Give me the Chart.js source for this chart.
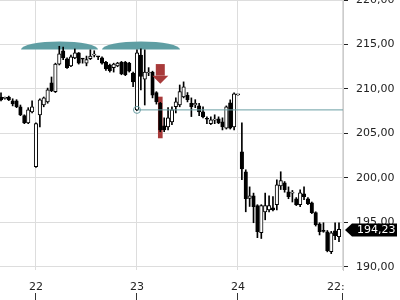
<!DOCTYPE html>
<html><head><meta charset="utf-8">
<script src="https://cdn.jsdelivr.net/npm/chart.js@4"></script>
<style>
html,body{margin:0;padding:0;background:#fff;overflow:hidden;width:400px;height:300px}
#wrap{position:absolute;left:0;top:0;width:400px;height:300px}
</style></head><body>
<div id="wrap"><canvas id="c"></canvas></div>
<script>
// ---- data (candle index = hourly slot) ----
const open  = [209.1,208.95,209.1,208.67,208.67,208.0,207.0,206.2,207.43,
 201.26,207.1,208.2,208.55,210.7,209.7,212.8,214.3,213.4,212.6,213.5,214.05,213.4,212.9,213.4,213.8,213.62,213.5,213.0,212.7,212.4,212.6,213.0,213.0,212.9,211.8,
 207.65,213.8,211.1,211.8,211.9,209.6,208.4,205.86,205.75,206.3,208.0,208.2,209.1,209.3,208.4,208.2,208.1,207.43,206.64,206.1,206.5,206.64,206.3,205.6,208.44,205.75,
 209.34,202.94,200.7,197.7,198.0,196.9,193.85,196.2,196.4,196.65,197.0,199.1,199.46,198.45,198.3,197.67,197.0,198.23,197.67,197.22,196.1,194.86,194.07,193.96,191.72,194.07,193.4];
const high  = [209.56,209.1,209.2,208.9,208.8,208.2,207.1,207.9,208.67,
 206.2,208.9,209.1,210.1,211.35,212.9,214.8,214.7,213.5,213.8,214.5,214.1,213.45,213.7,214.4,214.3,213.65,213.6,213.1,212.8,212.9,213.0,213.1,213.1,213.0,211.9,
 214.4,214.5,214.4,212.4,212.0,209.7,208.5,206.76,207.9,208.0,209.0,210.45,210.8,209.6,209.0,208.8,208.4,208.0,206.87,206.87,207.1,206.87,206.76,208.1,208.78,209.56,
 209.4,206.2,200.92,199.0,198.3,197.0,197.0,198.3,198.0,197.9,199.8,200.7,199.6,199.0,198.6,197.8,198.68,199.0,197.8,197.3,196.2,194.97,194.97,194.1,194.0,194.97,194.97];
const low   = [208.67,208.85,208.7,208.1,207.9,207.0,206.1,206.1,207.3,
 201.2,205.75,208.0,208.4,209.7,209.6,212.7,213.3,212.3,212.5,213.4,212.8,212.9,212.6,213.3,213.6,213.3,212.8,212.1,211.9,211.9,212.5,211.6,211.5,211.9,210.25,
 207.55,209.9,208.2,211.5,209.0,208.3,205.2,205.2,205.4,206.0,207.3,208.0,209.0,208.55,206.9,207.9,207.0,206.76,206.1,206.0,206.1,206.1,205.4,205.5,205.5,205.4,
 209.3,199.8,196.2,196.8,194.97,193.29,193.2,195.3,196.2,196.3,196.4,198.7,198.4,197.67,197.3,196.9,196.77,197.55,197.0,196.0,194.6,193.6,193.9,191.7,191.5,193.07,192.84];
const close = [208.78,209.0,208.78,208.33,208.0,207.1,206.2,207.65,208.0,
 206.1,208.78,209.0,209.9,209.8,212.8,213.95,213.5,212.4,213.6,214.05,212.9,213.35,213.3,213.7,213.85,213.6,212.9,212.25,212.05,212.8,212.9,211.7,211.6,212.0,210.8,
 214.05,211.4,211.9,211.85,209.3,208.55,205.4,205.4,206.76,207.65,208.55,209.7,210.25,208.8,208.0,208.4,207.43,206.87,206.6,206.53,206.55,206.2,205.75,208.0,205.6,209.45,
 209.36,201.03,197.67,198.0,196.77,193.96,196.9,196.9,196.9,196.4,199.24,199.7,198.68,197.9,198.35,197.0,198.34,197.9,197.1,196.1,194.75,193.96,194.0,191.83,193.85,193.51,194.23];

const dayTicks  = [9, 35, 61, 88];
const dayLabels = ['22', '23', '24', '22:\u2007\u2007'];
const priceTicks = [190, 195, 200, 205, 210, 215, 220];

const refIndex = 35, refLevel = 207.65;           // horizontal reference line + circle
const signalIndex = 41, signalRange = [204.5, 209.1], arrowTop = 212.8, arrowTip = 210.6;
const eventFrom = [5.15, 26.0], eventTo = [24.97, 46.07], eventLevel = 214.44;

// ---- helpers ----
const fmt = v => v.toFixed(2).replace('.', ',');
const idx = open.map((_, i) => i);
const up = idx.map(i => close[i] >= open[i]);

Chart.defaults.font.family = '"DejaVu Sans", sans-serif';
Chart.defaults.font.size = 11;
Chart.defaults.color = '#222';

const overlay = {
  id: 'overlay',
  beforeDatasetsDraw(chart) {
    const {ctx, scales: {x, y}} = chart;
    ctx.save();
    ctx.fillStyle = '#5f9ea3';
    for (let k = 0; k < eventFrom.length; k++) {
      const x0 = x.getPixelForValue(eventFrom[k]), x1 = x.getPixelForValue(eventTo[k]);
      const yb = y.getPixelForValue(eventLevel);
      ctx.beginPath();
      ctx.ellipse((x0 + x1) / 2, yb, (x1 - x0) / 2, 8, 0, Math.PI, 2 * Math.PI);
      ctx.closePath();
      ctx.fill();
    }
    ctx.restore();
  },
  afterDatasetsDraw(chart) {
    const {ctx, scales: {x, y}} = chart;
    ctx.save();
    const ax = x.getPixelForValue(signalIndex);
    const yt = y.getPixelForValue(arrowTop), ytip = y.getPixelForValue(arrowTip);
    ctx.fillStyle = '#a83a3a';
    ctx.fillRect(ax - 4.5, yt, 9, (ytip - yt) - 8);
    ctx.beginPath();
    ctx.moveTo(ax - 8, ytip - 8); ctx.lineTo(ax + 8, ytip - 8); ctx.lineTo(ax, ytip);
    ctx.closePath(); ctx.fill();
    ctx.restore();
  },
  afterDraw(chart) {
    const {ctx, chartArea, scales: {y}} = chart;
    const last = close[close.length - 1];
    const yy = Math.round(y.getPixelForValue(last)) + 1;
    const x0 = chartArea.right + 2, x2 = chart.width - 3;
    ctx.save();
    ctx.fillStyle = '#000';
    ctx.beginPath();
    ctx.moveTo(x0, yy); ctx.lineTo(x0 + 7, yy - 6.5); ctx.lineTo(x2, yy - 6.5);
    ctx.lineTo(x2, yy + 6.5); ctx.lineTo(x0 + 7, yy + 6.5); ctx.closePath(); ctx.fill();
    ctx.fillStyle = '#fff';
    ctx.font = '11px "DejaVu Sans"';
    ctx.textBaseline = 'middle'; ctx.textAlign = 'left';
    ctx.fillText(fmt(last), x0 + 12, yy + 0.5);
    ctx.restore();
  }
};

const noPad = a => { a.paddingLeft = 0; a.paddingRight = 0; a.paddingTop = 0; a.paddingBottom = 0; };

new Chart(document.getElementById('c'), {
  type: 'bar',
  data: {
    datasets: [
      { type: 'line', order: 0,
        data: [{x: refIndex, y: refLevel}, {x: 88.03, y: refLevel}],
        borderColor: '#6a9ea3', borderWidth: 1,
        pointRadius: [3.5, 0], pointBorderColor: '#6a9ea3', pointBorderWidth: 1,
        pointBackgroundColor: 'rgba(0,0,0,0)', clip: 6 },
      { order: 1, grouped: false, barThickness: 3.5, minBarLength: 1,
        data: idx.map(i => ({x: i, y: [Math.min(open[i], close[i]), Math.max(open[i], close[i])]})),
        backgroundColor: up.map(u => u ? '#fff' : '#000'),
        borderColor: '#000', borderWidth: 1, borderSkipped: false },
      { order: 2, grouped: false, barThickness: 1,
        data: idx.map(i => ({x: i, y: [low[i], high[i]]})),
        backgroundColor: '#000', borderWidth: 0 },
      { order: 3, grouped: false, barThickness: 4,
        data: [{x: signalIndex, y: signalRange}],
        backgroundColor: '#a83a3a', borderWidth: 0 }
    ]
  },
  options: {
    responsive: true, maintainAspectRatio: false, animation: false,
    layout: {padding: 0, autoPadding: false},
    plugins: {legend: {display: false}, tooltip: {enabled: false}},
    scales: {
      x: {
        type: 'linear', position: 'bottom', min: -0.26, max: 88.03, offset: false, weight: 0,
        grid: {color: '#dddddd', drawTicks: false, offset: false},
        border: {display: false},
        afterBuildTicks: a => { a.ticks = dayTicks.map(v => ({value: v})); },
        afterFit: a => { a.height = 23; noPad(a); },
        ticks: {autoSkip: false, maxRotation: 0, padding: 11, color: '#222',
                callback: (v, i) => dayLabels[i]}
      },
      x2: {
        type: 'linear', position: 'bottom', min: -0.26, max: 88.03, offset: false, weight: 1,
        grid: {drawOnChartArea: false, drawTicks: true, tickLength: 7, color: '#333', tickColor: '#333', offset: false},
        border: {display: false},
        afterBuildTicks: a => { a.ticks = dayTicks.map(v => ({value: v})); },
        afterFit: a => { a.height = 7; noPad(a); },
        ticks: {display: false}
      },
      y: {
        type: 'linear', position: 'right', min: 189.66, max: 220,
        grid: {color: '#dddddd', tickLength: 5, tickColor: '#222'},
        border: {display: true, color: '#cccccc'},
        afterBuildTicks: a => { a.ticks = priceTicks.map(v => ({value: v})); },
        afterFit: a => { a.width = 57; noPad(a); },
        ticks: {padding: 8, color: '#222', callback: v => fmt(v)}
      }
    }
  },
  plugins: [overlay]
});
</script>
</body></html>
